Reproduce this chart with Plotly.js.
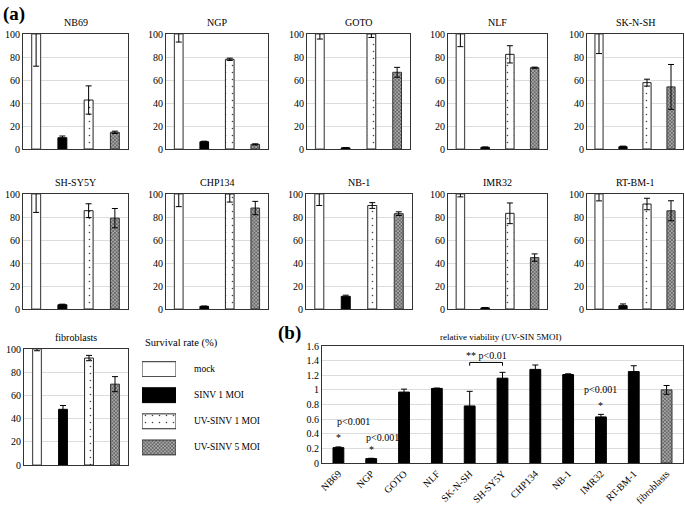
<!DOCTYPE html>
<html><head><meta charset="utf-8">
<script src="https://cdn.plot.ly/plotly-3.0.1.min.js"></script>
<style>html,body{margin:0;padding:0;background:#fff}#chart{width:685px;height:505px}</style>
</head><body><div id="chart"></div>
<script>
// ---------- data ----------
const cellLines = ['NB69','NGP','GOTO','NLF','SK-N-SH','SH-SY5Y','CHP134','NB-1','IMR32','RT-BM-1','fibroblasts'];
const conditions = ['mock','SINV 1 MOI','UV-SINV 1 MOI','UV-SINV 5 MOI'];
const mockVals = [100,100,100,100,100,100,100,100,100,100,100];
const mockErr  = [28,7,4.4,11,17,16,11,10,2.5,6,1.5];
const sinvVals = [9.8,6.3,1,1.5,2,3.7,2.3,11,1,2.9,48];
const sinvErr  = [1.5,0.5,0.3,0.3,0.5,0.5,0.3,1,0.3,1.5,3.3];
const uv1Vals  = [42.6,78,100,82.3,57.7,85.5,100,90,83.2,91.3,92.2];
const uv1Err   = [12.3,1,3,7.5,3,6,7,2.5,9,5,2.3];
const uv5Vals  = [14.5,4,66.7,70.7,54,79,87.8,82.9,44.7,85.4,69.7];
const uv5Err   = [1,0.5,4.3,0.5,19.5,8.4,5.8,1.6,3.2,8.7,6.5];
const relVals  = [0.21,0.06,0.97,1.02,0.78,1.16,1.28,1.21,0.63,1.25,1.0];
const relErr   = [0.01,0.005,0.04,0.005,0.2,0.08,0.06,0.01,0.035,0.08,0.06];
const survivalTicks = [0,20,40,60,80,100];
const relTicks = [0,0.2,0.4,0.6,0.8,1,1.2,1.4,1.6];
const relTickText = ['0','0.2','0.4','0.6','0.8','1','1.2','1.4','1.6'];

// ---------- layout helpers ----------
const W = 685, H = 505;
const SERIF = 'Liberation Serif';
const xd = (l, r) => [l / W, r / W];
const yd = (t, b) => [1 - b / H, 1 - t / H];
const panelBoxes = [
  [23,128,34,149],[166,268,34,149],[307,410,34,149],[448,547,34,149],[587,683,34,149],
  [23,128,194,309],[166,268,194,309],[306,412,194,309],[448,547,194,309],[587,683,194,309],
  [24,128,349,465]
];
const styles = [
  {color:'#ffffff', line:{color:'#505050', width:1.2}},
  {color:'#000000', line:{color:'#000', width:1}},
  {color:'#ffffff', line:{color:'#222', width:1}, pattern:{shape:'.', fgcolor:'#444', bgcolor:'#ffffff', size:7, solidity:0.04}},
  {color:'#8c8c8c', line:{color:'#333', width:1}, pattern:{shape:'x', fgcolor:'#5a5a5a', bgcolor:'#a8a8a8', size:2.5, solidity:0.5}}
];
const seriesVals = [mockVals, sinvVals, uv1Vals, uv5Vals];
const seriesErr = [mockErr, sinvErr, uv1Err, uv5Err];

const traces = [];
const layout = {
  width: W, height: H, margin:{l:0,r:0,t:0,b:0},
  paper_bgcolor:'#fff', plot_bgcolor:'#fff',
  barmode:'overlay', showlegend:false,
  font:{family:SERIF, size:10, color:'#000'},
  annotations:[], shapes:[]
};

cellLines.forEach((name, i) => {
  const n = i + 1;
  const xa = n === 1 ? 'x' : 'x' + n, ya = n === 1 ? 'y' : 'y' + n;
  const [l, r, t, b] = panelBoxes[i];
  layout[n === 1 ? 'xaxis' : 'xaxis' + n] = {
    domain: xd(l, r), anchor: ya, type:'category', categoryorder:'array', categoryarray: conditions,
    range:[-0.5, 3.5], showticklabels:false, ticks:'', showgrid:false, zeroline:false,
    showline:true, mirror:true, linecolor:'#333', linewidth:1, fixedrange:true
  };
  layout[n === 1 ? 'yaxis' : 'yaxis' + n] = {
    domain: yd(t, b), anchor: xa, range:[0, 100], tickvals: survivalTicks, ticks:'',
    showgrid:true, gridcolor:'#dcdcdc', gridwidth:1, zeroline:false,
    showline:true, mirror:true, linecolor:'#333', linewidth:1,
    tickfont:{family:SERIF, size:10, color:'#000'}, fixedrange:true
  };
  conditions.forEach((c, k) => {
    traces.push({
      type:'bar', x:[c], y:[seriesVals[k][i]], width:0.34, xaxis:xa, yaxis:ya,
      marker: styles[k], cliponaxis:true,
      error_y:{type:'data', array:[seriesErr[k][i]], color:'#000', thickness:1, width:3}
    });
  });
  layout.annotations.push({
    text: name, xref:'paper', yref:'paper', x: ((l + r) / 2) / W, y: 1 - (t - 4) / H,
    xanchor:'center', yanchor:'bottom', showarrow:false, font:{family:SERIF, size:10, color:'#000'}
  });
});

// ---------- panel (b) ----------
const bLines = cellLines.slice(0, 10);
traces.push({
  type:'bar', x: bLines, y: relVals.slice(0, 10), width:0.33, xaxis:'x12', yaxis:'y12',
  marker:{color:'#000', line:{color:'#000', width:1}},
  error_y:{type:'data', array: relErr.slice(0, 10), color:'#000', thickness:1, width:3}
});
traces.push({
  type:'bar', x:[cellLines[10]], y:[relVals[10]], width:0.33, xaxis:'x12', yaxis:'y12',
  marker: styles[3],
  error_y:{type:'data', array:[relErr[10]], color:'#000', thickness:1, width:3}
});
layout.xaxis12 = {
  domain: xd(322, 683), anchor:'y12', type:'category', categoryorder:'array', categoryarray: cellLines,
  range:[-0.5, 10.5], tickangle:-45, ticks:'', showgrid:false, zeroline:false,
  showline:true, mirror:true, linecolor:'#333', linewidth:1,
  tickfont:{family:SERIF, size:10, color:'#000'}, fixedrange:true
};
layout.yaxis12 = {
  domain: yd(346, 463), anchor:'x12', range:[0, 1.6], tickvals: relTicks, ticktext: relTickText, ticks:'',
  showgrid:true, gridcolor:'#dcdcdc', zeroline:false,
  showline:true, mirror:true, linecolor:'#333', linewidth:1,
  tickfont:{family:SERIF, size:10, color:'#000'}, fixedrange:true
};
const bAnn = [
  ['p<0.001', 0, 0.57, 0.45], ['*', 0, 0.35, 0], ['p<0.001', 1, 0.355, 0.35], ['*', 1, 0.19, 0],
  ['** p<0.01', 4.5, 1.47, 0], ['p<0.001', 8, 1.0, 0], ['*', 8, 0.79, 0]
];
bAnn.forEach(([txt, xi, yv, dx]) => {
  layout.annotations.push({
    text: txt, xref:'x12', yref:'y12', x: xi + dx, y: yv, xanchor:'center', yanchor:'middle',
    showarrow:false, font:{family:SERIF, size:10, color:'#000'}
  });
});
// bracket between SK-N-SH and SH-SY5Y
const bi = cellLines.indexOf('SK-N-SH'), bj = cellLines.indexOf('SH-SY5Y');
[[bi, 1.33, bi, 1.375], [bi, 1.375, bj, 1.375], [bj, 1.375, bj, 1.33]].forEach(([x0, y0, x1, y1]) => {
  layout.shapes.push({type:'line', xref:'x12', yref:'y12', x0, y0, x1, y1, line:{color:'#000', width:1}});
});
layout.annotations.push({
  text:'relative viability (UV-SIN 5MOI)', xref:'paper', yref:'paper', x: 500 / W, y: 1 - 337 / H,
  xanchor:'center', yanchor:'middle', showarrow:false, font:{family:SERIF, size:9, color:'#000'}
});

// ---------- legend (drawn as a small hidden-axis bar subplot) ----------
conditions.forEach((c, k) => {
  traces.push({
    type:'bar', orientation:'h', x:[1], y:[k], base:0, width:0.57, xaxis:'x13', yaxis:'y13',
    marker: styles[k], hoverinfo:'skip'
  });
  layout.annotations.push({
    text: c, xref:'paper', yref:'y13', x: 192 / W, y: k, xanchor:'left', yanchor:'middle',
    showarrow:false, font:{family:SERIF, size:9.5, color:'#000'}
  });
});
layout.xaxis13 = {domain: xd(142, 176), anchor:'y13', range:[0, 1], visible:false, fixedrange:true};
layout.yaxis13 = {domain: yd(356, 460.5), anchor:'x13', range:[3.5, -0.5], visible:false, fixedrange:true};
layout.annotations.push({
  text:'Survival rate (%)', xref:'paper', yref:'paper', x: 143 / W, y: 1 - 343 / H,
  xanchor:'left', yanchor:'middle', showarrow:false, font:{family:SERIF, size:10.5, color:'#000'}
});

// panel letters
layout.annotations.push({
  text:'<b>(a)</b>', xref:'paper', yref:'paper', x: 1 / W, y: 1 - 1 / H, xanchor:'left', yanchor:'top',
  showarrow:false, font:{family:SERIF, size:19, color:'#000'}
});
layout.annotations.push({
  text:'<b>(b)</b>', xref:'paper', yref:'paper', x: 276 / W, y: 1 - 320 / H, xanchor:'left', yanchor:'top',
  showarrow:false, font:{family:SERIF, size:19, color:'#000'}
});

Plotly.newPlot('chart', traces, layout, {staticPlot:true, displayModeBar:false});
</script>
</body></html>
